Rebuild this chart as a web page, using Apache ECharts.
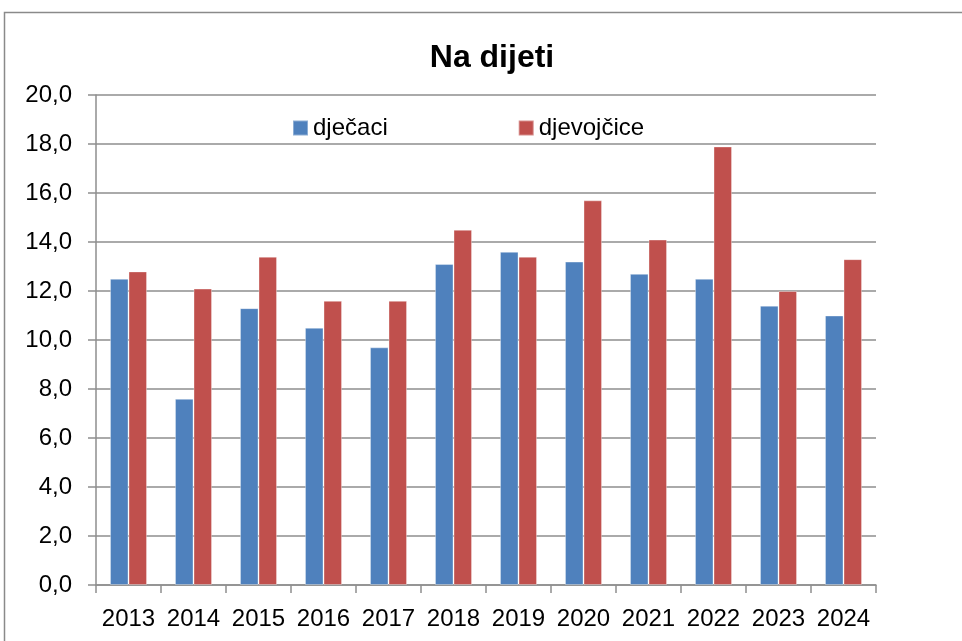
<!DOCTYPE html>
<html>
<head>
<meta charset="utf-8">
<script src="https://cdn.jsdelivr.net/npm/echarts@6/dist/echarts.min.js"></script>
<style>
  html, body { margin: 0; padding: 0; background: #fff; }
  #chartNaDijeti { width: 962px; height: 641px; }
</style>
</head>
<body>
<div id="chartNaDijeti"></div>
<script>
		var chart = echarts.init(document.getElementById('chartNaDijeti'));

		var godine = ['2013', '2014', '2015', '2016', '2017', '2018', '2019', '2020', '2021', '2022', '2023', '2024'];
		var podaci = {
			"dječaci":    [12.5, 7.6, 11.3, 10.5, 9.7, 13.1, 13.6, 13.2, 12.7, 12.5, 11.4, 11.0],
			"djevojčice": [12.8, 12.1, 13.4, 11.6, 11.6, 14.5, 13.4, 15.7, 14.1, 17.9, 12.0, 13.3]
		};
		var boje = { "dječaci": '#4F81BD', "djevojčice": '#C0504D' };

		var font = '"Liberation Sans", Arial, sans-serif';
		var gray = '#8e8e8e';

		var series = [];
		for (var name in podaci) {
			series.push({
				name: name,
				type: 'bar',
				data: podaci[name],
				barGap: '0%',
				barCategoryGap: '43%',
				itemStyle: {
					color: boje[name],
					borderColor: 'rgba(255,255,255,0.35)',
					borderWidth: 1
				}
			});
		}

		var option = {
			animation: false,
			backgroundColor: '#fff',
			graphic: [{
				type: 'rect',
				shape: { x: 4.5, y: 12.5, width: 1200, height: 1000 },
				style: { fill: 'none', stroke: '#8a8a8a', lineWidth: 1.5 },
				silent: true
			}],
			title: {
				text: 'Na dijeti',
				left: 487,
				textAlign: 'center',
				top: 37,
				textStyle: { fontFamily: font, fontWeight: 'bold', fontSize: 32, color: '#000' }
			},
			legend: {
				data: ['dječaci', 'djevojčice'],
				left: 287,
				top: 111,
				itemWidth: 15,
				itemHeight: 15,
				itemGap: 130,
				icon: 'rect',
				textStyle: { fontFamily: font, fontSize: 24, color: '#000' }
			},
			grid: { left: 96, right: 86, top: 95, bottom: 56, containLabel: false },
			xAxis: {
				type: 'category',
				data: godine,
				axisLine: { lineStyle: { color: gray, width: 1.5 } },
				axisTick: { show: true, length: 8, lineStyle: { color: gray, width: 1.5 } },
				axisLabel: { interval: 0, margin: 22, fontFamily: font, fontSize: 24, color: '#000' }
			},
			yAxis: {
				type: 'value',
				min: 0,
				max: 20,
				interval: 2,
				axisLine: { show: true, lineStyle: { color: gray, width: 1.5 } },
				axisTick: { show: true, length: 8, lineStyle: { color: gray, width: 1.5 } },
				splitLine: { lineStyle: { color: gray, width: 1.5 } },
				axisLabel: {
					margin: 24,
					fontFamily: font,
					fontSize: 24,
					color: '#000',
					formatter: function (v) {
						return v.toFixed(1).replace('.', ',');
					}
				}
			},
			series: series
		};

		chart.setOption(option);

		window.onresize = function () {
			chart.resize();
		}
</script>
</body>
</html>
